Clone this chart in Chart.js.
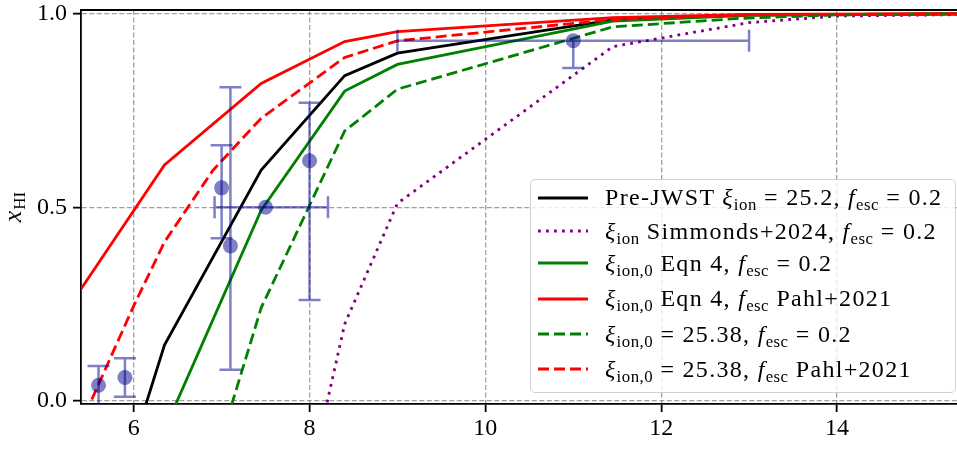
<!DOCTYPE html>
<html>
<head>
<meta charset="utf-8">
<script src="https://cdn.jsdelivr.net/npm/chart.js@4.4.1/dist/chart.umd.min.js"></script>
<style>
  html, body { margin: 0; padding: 0; background: #fff; overflow: hidden; }
  #wrap { position: relative; width: 957px; height: 459px; }
  #legend {
    position: absolute; left: 530px; top: 179px; width: 426px; height: 214px;
    box-sizing: border-box; border: 1px solid #d0d0d0; border-radius: 5px;
    background: rgba(255, 255, 255, 0.8);
    font-family: 'Liberation Serif', serif; font-size: 24px; letter-spacing: 1.3px; color: #000;
  }
  .row { position: absolute; left: 0; height: 30px; display: flex; align-items: center; white-space: nowrap; }
  .row svg { margin-left: 7px; margin-right: 17px; flex: none; }
  .row sub { font-size: 70%; vertical-align: -0.3em; line-height: 0; letter-spacing: 0.5px; }
</style>
</head>
<body>
<div id="wrap">
  <canvas id="chart" width="957" height="459"></canvas>
  <div id="legend"></div>
</div>
<script>
// model curves, redshift z vs neutral fraction x_HI
const zPreJwst = [6.0, 6.35, 7.45, 8.4, 9.0, 11.45, 13.0, 15.5];
const xPreJwst = [-0.11, 0.144, 0.596, 0.84, 0.898, 0.984, 0.997, 1.0];

const zSimmonds = [8.0, 8.4, 9.0, 11.45, 13.0, 14.0, 15.5];
const xSimmonds = [-0.206, 0.198, 0.51, 0.915, 0.977, 0.994, 0.998];

const zEqn4 = [6.35, 7.45, 8.4, 9.0, 11.45, 13.0, 15.5];
const xEqn4 = [-0.075, 0.492, 0.80, 0.869, 0.981, 0.996, 1.0];

const zEqn4Pahl = [5.3, 6.35, 7.45, 8.4, 9.0, 11.45, 13.0, 15.5];
const xEqn4Pahl = [0.255, 0.609, 0.82, 0.928, 0.954, 0.99, 0.998, 1.0];

const zFixed = [6.9, 7.45, 8.4, 9.0, 11.45, 12.9, 14.0, 15.5];
const xFixed = [-0.17, 0.24, 0.697, 0.805, 0.966, 0.988, 0.997, 1.0];

const zFixedPahl = [5.3, 6.0, 6.35, 6.9, 7.45, 8.4, 9.0, 11.45, 13.0, 15.5];
const xFixedPahl = [-0.11, 0.245, 0.41, 0.595, 0.73, 0.887, 0.93, 0.985, 0.997, 1.0];

// observational constraints
const obsZ = [5.6, 5.9, 7.0, 7.1, 7.5, 8.0, 11.0];
const obsX = [0.04, 0.06, 0.55, 0.40, 0.50, 0.62, 0.93];
const obsXLow = [-0.01, 0.01, 0.42, 0.08, null, 0.26, 0.86];
const obsXHigh = [0.09, 0.11, 0.66, 0.81, null, 0.77, null];
const obsZLow = [null, null, null, null, 6.92, null, 9.0];
const obsZHigh = [null, null, null, null, 8.21, null, 13.0];

const xTicks = [6, 8, 10, 12, 14];
const yTicks = [0, 0.5, 1.0];

const legendLabels = [
  'Pre-JWST <i>ξ</i><sub>ion</sub> = 25.2, <i>f</i><sub>esc</sub> = 0.2',
  '<i>ξ</i><sub>ion</sub> Simmonds+2024, <i>f</i><sub>esc</sub> = 0.2',
  '<i>ξ</i><sub>ion,0</sub> Eqn 4, <i>f</i><sub>esc</sub> = 0.2',
  '<i>ξ</i><sub>ion,0</sub> Eqn 4, <i>f</i><sub>esc</sub> Pahl+2021',
  '<i>ξ</i><sub>ion,0</sub> = 25.38, <i>f</i><sub>esc</sub> = 0.2',
  '<i>ξ</i><sub>ion,0</sub> = 25.38, <i>f</i><sub>esc</sub> Pahl+2021',
];
const legendRowCenters = [17.5, 51, 83, 118.5, 154, 189];

const obsColor = 'rgba(0, 0, 139, 0.5)';
const serif = "'Liberation Serif', 'Times New Roman', serif";
const LW = 2.8;

function pts(zs, xs) {
  return zs.map((z, i) => ({ x: z, y: xs[i] }));
}

function curve(zs, xs, color, dash, order, legendIdx) {
  return {
    data: pts(zs, xs),
    showLine: true,
    borderColor: color,
    backgroundColor: color,
    borderWidth: LW,
    borderDash: dash,
    borderCapStyle: 'butt',
    pointRadius: 0,
    order: order,
    legendIdx: legendIdx,
  };
}

// error bars for the observations, drawn on top of the markers
const errorBars = {
  id: 'errorBars',
  afterDatasetsDraw(chart) {
    const { ctx, chartArea, scales: { x, y } } = chart;
    const cap = 11;
    ctx.save();
    ctx.beginPath();
    ctx.rect(chartArea.left, chartArea.top, chartArea.right - chartArea.left, chartArea.bottom - chartArea.top);
    ctx.clip();
    ctx.strokeStyle = obsColor;
    ctx.lineWidth = 2.5;
    obsZ.forEach((z, i) => {
      const px = x.getPixelForValue(z);
      const py = y.getPixelForValue(obsX[i]);
      if (obsXLow[i] !== null || obsXHigh[i] !== null) {
        const lo = y.getPixelForValue(obsXLow[i] !== null ? obsXLow[i] : obsX[i]);
        const hi = y.getPixelForValue(obsXHigh[i] !== null ? obsXHigh[i] : obsX[i]);
        ctx.beginPath();
        ctx.moveTo(px, lo); ctx.lineTo(px, hi);
        if (obsXLow[i] !== null) { ctx.moveTo(px - cap, lo); ctx.lineTo(px + cap, lo); }
        if (obsXHigh[i] !== null) { ctx.moveTo(px - cap, hi); ctx.lineTo(px + cap, hi); }
        ctx.stroke();
      }
      if (obsZLow[i] !== null) {
        const l = x.getPixelForValue(obsZLow[i]);
        const r = x.getPixelForValue(obsZHigh[i]);
        ctx.beginPath();
        ctx.moveTo(l, py); ctx.lineTo(r, py);
        ctx.moveTo(l, py - cap); ctx.lineTo(l, py + cap);
        ctx.moveTo(r, py - cap); ctx.lineTo(r, py + cap);
        ctx.stroke();
      }
    });
    ctx.restore();
  }
};

// top spine and the y axis label (italic x with roman HI subscript)
const frame = {
  id: 'frame',
  afterDraw(chart) {
    const { ctx, chartArea } = chart;
    ctx.save();
    ctx.strokeStyle = '#000';
    ctx.lineWidth = 1.8;
    ctx.beginPath();
    ctx.moveTo(chartArea.left - 0.9, chartArea.top);
    ctx.lineTo(chartArea.right, chartArea.top);
    ctx.stroke();

    ctx.translate(16, (chartArea.top + chartArea.bottom) / 2);
    ctx.rotate(-Math.PI / 2);
    ctx.fillStyle = '#000';
    ctx.textBaseline = 'alphabetic';
    ctx.font = 'italic 26px ' + serif;
    const wx = ctx.measureText('x').width;
    ctx.font = '17px ' + serif;
    const wh = ctx.measureText('HI').width;
    const start = -(wx + 1 + wh) / 2;
    ctx.font = 'italic 26px ' + serif;
    ctx.fillText('x', start, 5);
    ctx.font = '17px ' + serif;
    ctx.fillText('HI', start + wx + 1, 9);
    ctx.restore();
  }
};

const datasets = [
  {
    data: pts(obsZ, obsX),
    pointRadius: 7.5,
    pointBackgroundColor: obsColor,
    pointBorderWidth: 0,
    showLine: false,
    order: 0,
  },
  curve(zFixedPahl, xFixedPahl, '#ff0000', [11, 5], 1, 5),
  curve(zFixed, xFixed, '#008000', [11, 5], 2, 4),
  curve(zEqn4Pahl, xEqn4Pahl, '#ff0000', [], 3, 3),
  curve(zEqn4, xEqn4, '#008000', [], 4, 2),
  curve(zSimmonds, xSimmonds, '#800080', [2.8, 5.2], 5, 1),
  curve(zPreJwst, xPreJwst, '#000000', [], 6, 0),
];

const gridStyle = {
  color: 'rgba(128,128,128,0.75)',
  lineWidth: 1.3,
  tickLength: 8,
  tickColor: '#000',
  tickWidth: 1.8,
  tickBorderDash: [],
};

const chart = new Chart(document.getElementById('chart'), {
  type: 'scatter',
  data: { datasets },
  options: {
    responsive: false,
    animation: false,
    layout: { autoPadding: false, padding: { top: 10, left: 0, right: 0, bottom: 0 } },
    plugins: { legend: { display: false }, tooltip: { enabled: false } },
    scales: {
      x: {
        type: 'linear',
        min: 5.4005,
        max: 15.365,
        afterBuildTicks: s => { s.ticks = xTicks.map(v => ({ value: v })); },
        afterFit: s => { s.height = 55; s.paddingLeft = 0; s.paddingRight = 0; },
        ticks: {
          color: '#000',
          font: { family: serif, size: 24 },
          padding: 2,
          maxRotation: 0,
          callback: v => String(v),
        },
        grid: gridStyle,
        border: { display: true, color: '#000', width: 1.8, dash: [5, 2.5] },
      },
      y: {
        type: 'linear',
        min: -0.0085,
        max: 1.0096,
        afterBuildTicks: s => { s.ticks = yTicks.map(v => ({ value: v })); },
        afterFit: s => { s.width = 81; s.paddingTop = 0; s.paddingBottom = 0; },
        ticks: {
          color: '#000',
          font: { family: serif, size: 24 },
          padding: 6,
          callback: v => v.toFixed(1),
        },
        grid: gridStyle,
        border: { display: true, color: '#000', width: 1.8, dash: [5, 2.5] },
      },
    },
  },
  plugins: [errorBars, frame],
});

// legend built from the line datasets, with subscript markup
function buildLegend(ch) {
  const box = document.getElementById('legend');
  const items = ch.data.datasets.filter(d => d.legendIdx !== undefined)
    .sort((a, b) => a.legendIdx - b.legendIdx);
  items.forEach((d, k) => {
    const row = document.createElement('div');
    row.className = 'row';
    row.style.top = (legendRowCenters[k] - 15) + 'px';
    const dash = d.borderDash.length ? d.borderDash.join(' ') : 'none';
    row.innerHTML =
      '<svg width="50" height="10"><line x1="0" y1="5" x2="50" y2="5" stroke="' + d.borderColor +
      '" stroke-width="' + LW + '" stroke-dasharray="' + dash + '"/></svg>' +
      '<span>' + legendLabels[d.legendIdx] + '</span>';
    box.appendChild(row);
  });
}
buildLegend(chart);
</script>
</body>
</html>
